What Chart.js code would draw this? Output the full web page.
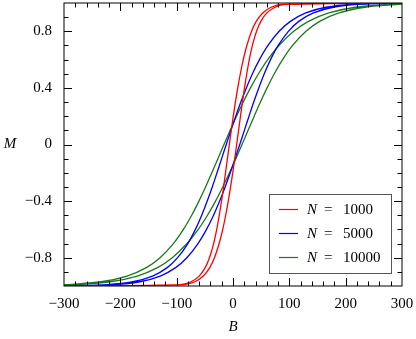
<!DOCTYPE html>
<html>
<head>
<meta charset="utf-8">
<script src="https://cdn.jsdelivr.net/npm/chart.js"></script>
<style>
  html, body { margin: 0; padding: 0; background: #fff; }
  #wrap { width: 416px; height: 339px; position: relative; }
</style>
</head>
<body>
<div id="wrap"><canvas id="loops"></canvas></div>
<script>
const mLevels = [-0.99, -0.97, -0.93, -0.87, -0.8, -0.7, -0.6, -0.5, -0.4, -0.3, -0.2, -0.1, 0,
                 0.1, 0.2, 0.3, 0.4, 0.5, 0.6, 0.7, 0.8, 0.87, 0.93, 0.97, 0.99];

// field B on the rising (right) and falling (left) branch, one value per level
const redRising = [-86.7, -67.7, -52.7, -41.3, -32.9, -24.6, -18.2, -13.0, -8.4, -4.3, -0.5, 3.1, 6.5,
                   9.9, 13.3, 16.7, 20.4, 24.4, 28.9, 34.4, 41.8, 49.4, 60.1, 74.6, 93.3];
const redFalling = [-93.3, -74.6, -60.1, -49.4, -41.8, -34.4, -28.9, -24.4, -20.4, -16.7, -13.3, -9.9, -6.5,
                    -3.1, 0.5, 4.3, 8.4, 13.0, 18.2, 24.6, 32.9, 41.3, 52.7, 67.7, 86.7];

const blueRising = [-210.9, -165.2, -129.2, -101.9, -81.9, -62.1, -47.0, -34.5, -23.7, -13.9, -4.9, 3.7, 12,
                    20.2, 28.4, 36.8, 45.8, 55.5, 66.7, 80.2, 98.3, 116.8, 142.8, 177.9, 223.2];
const blueFalling = [-223.2, -177.9, -142.8, -116.8, -98.3, -80.2, -66.7, -55.5, -45.8, -36.8, -28.4, -20.2, -12,
                     -3.7, 4.9, 13.9, 23.7, 34.5, 47.0, 62.1, 81.9, 101.9, 129.2, 165.2, 210.9];

const greenRising = [-277.6, -217.5, -170.0, -134.0, -107.8, -81.6, -61.7, -45.3, -31.0, -18.2, -6.2, 5.1, 16,
                     26.8, 37.6, 48.7, 60.5, 73.3, 88.0, 105.8, 129.5, 153.9, 188.2, 234.4, 294.0];
const greenFalling = [-294.0, -234.4, -188.2, -153.9, -129.5, -105.8, -88.0, -73.3, -60.5, -48.7, -37.6, -26.8, -16,
                      -5.1, 6.2, 18.2, 31.0, 45.3, 61.7, 81.6, 107.8, 134.0, 170.0, 217.5, 277.6];

// |M| reached at the edges of the field range (B = -300 / 300)
const edgeM = [1.0, 0.999, 0.992];

const sizes = ["1000", "5000", "10000"];
const colors = ["#ff0000", "#0000ff", "#1a7a1a"];
const xTicks = [-300, -200, -100, 0, 100, 200, 300];
const yTicks = [-0.8, -0.4, 0, 0.4, 0.8];

const serif = "Liberation Serif, DejaVu Serif, serif";

// closed loop: up the rising branch, back down the falling one
function loop(rising, falling, edge) {
  const pts = [{ x: -300, y: -edge }];
  rising.forEach((b, i) => pts.push({ x: b, y: mLevels[i] }));
  pts.push({ x: 300, y: edge });
  for (let i = falling.length - 1; i >= 0; i--) pts.push({ x: falling[i], y: mLevels[i] });
  pts.push({ x: -300, y: -edge });
  return pts;
}

const loops = [
  loop(redRising, redFalling, edgeM[0]),
  loop(blueRising, blueFalling, edgeM[1]),
  loop(greenRising, greenFalling, edgeM[2])
];

function fmt(v) {
  const s = String(Math.round(v * 10) / 10);
  return v < 0 ? "\u2212" + s.slice(1) : s;
}

function noPad(s) {
  s.paddingTop = 0; s.paddingBottom = 0; s.paddingLeft = 0; s.paddingRight = 0;
}

// frame, inward ticks on all sides, axis letters and the boxed legend
const decor = {
  id: "decor",
  afterDraw(chart) {
    const { ctx, chartArea: a, scales } = chart;
    const xs = scales.x, ys = scales.y;
    ctx.save();
    ctx.strokeStyle = "#000";
    ctx.lineWidth = 1;
    ctx.strokeRect(a.left, a.top, a.right - a.left, a.bottom - a.top);

    ctx.beginPath();
    for (let v = -280; v < 300; v += 20) {
      const len = v % 100 === 0 ? 8 : 4.5;
      const px = Math.round(xs.getPixelForValue(v)) + 0.5;
      ctx.moveTo(px, a.bottom); ctx.lineTo(px, a.bottom - len);
      ctx.moveTo(px, a.top); ctx.lineTo(px, a.top + len);
    }
    for (let k = -9; k <= 9; k++) {
      const len = k % 4 === 0 ? 8 : 4.5;
      const py = Math.round(ys.getPixelForValue(k / 10)) + 0.5;
      ctx.moveTo(a.left, py); ctx.lineTo(a.left + len, py);
      ctx.moveTo(a.right, py); ctx.lineTo(a.right - len, py);
    }
    ctx.stroke();

    ctx.fillStyle = "#000";
    ctx.font = "italic 15px " + serif;
    ctx.textAlign = "center";
    ctx.textBaseline = "middle";
    ctx.fillText("M", 10, 144);
    ctx.fillText("B", 233, 327);

    // legend
    const bx = 269, by = 194, bw = 122, bh = 79;
    ctx.fillStyle = "#fff";
    ctx.fillRect(bx, by, bw, bh);
    ctx.strokeStyle = "#555";
    ctx.strokeRect(bx + 0.5, by + 0.5, bw, bh);
    sizes.forEach((n, i) => {
      const y = 209 + i * 24;
      ctx.strokeStyle = colors[i];
      ctx.lineWidth = 1.2;
      ctx.beginPath();
      ctx.moveTo(279, y + 0.5); ctx.lineTo(298, y + 0.5);
      ctx.stroke();
      ctx.fillStyle = "#000";
      ctx.textAlign = "left";
      ctx.font = "italic 15px " + serif;
      ctx.fillText("N", 307, y + 1);
      ctx.font = "15px " + serif;
      ctx.fillText("=", 324, y + 1);
      ctx.fillText(n, 343, y + 1);
    });
    ctx.restore();
  }
};

new Chart(document.getElementById("loops").getContext("2d"), {
  type: "scatter",
  data: {
    datasets: loops.map((pts, i) => ({
      label: "N = " + sizes[i],
      data: pts,
      showLine: true,
      borderColor: colors[i],
      borderWidth: 1.3,
      pointRadius: 0,
      tension: 0.3,
      fill: false
    }))
  },
  options: {
    responsive: true,
    maintainAspectRatio: false,
    animation: false,
    layout: { padding: { top: 3, right: 14, left: 0, bottom: 0 } },
    plugins: { legend: { display: false }, tooltip: { enabled: false } },
    scales: {
      x: {
        type: "linear", min: -300, max: 300,
        grid: { display: false, drawTicks: false },
        border: { display: false },
        afterBuildTicks: s => { s.ticks = xTicks.map(v => ({ value: v })); },
        afterFit: s => { s.height = 53; noPad(s); },
        ticks: { color: "#000", padding: 9, maxRotation: 0, font: { family: serif, size: 15 }, callback: v => fmt(v) }
      },
      y: {
        type: "linear", min: -1, max: 1,
        grid: { display: false, drawTicks: false },
        border: { display: false },
        afterBuildTicks: s => { s.ticks = yTicks.map(v => ({ value: v })); },
        afterFit: s => { s.width = 64; noPad(s); },
        ticks: { color: "#000", padding: 12, font: { family: serif, size: 15 }, callback: v => fmt(v) }
      }
    }
  },
  plugins: [decor]
});
</script>
</body>
</html>
